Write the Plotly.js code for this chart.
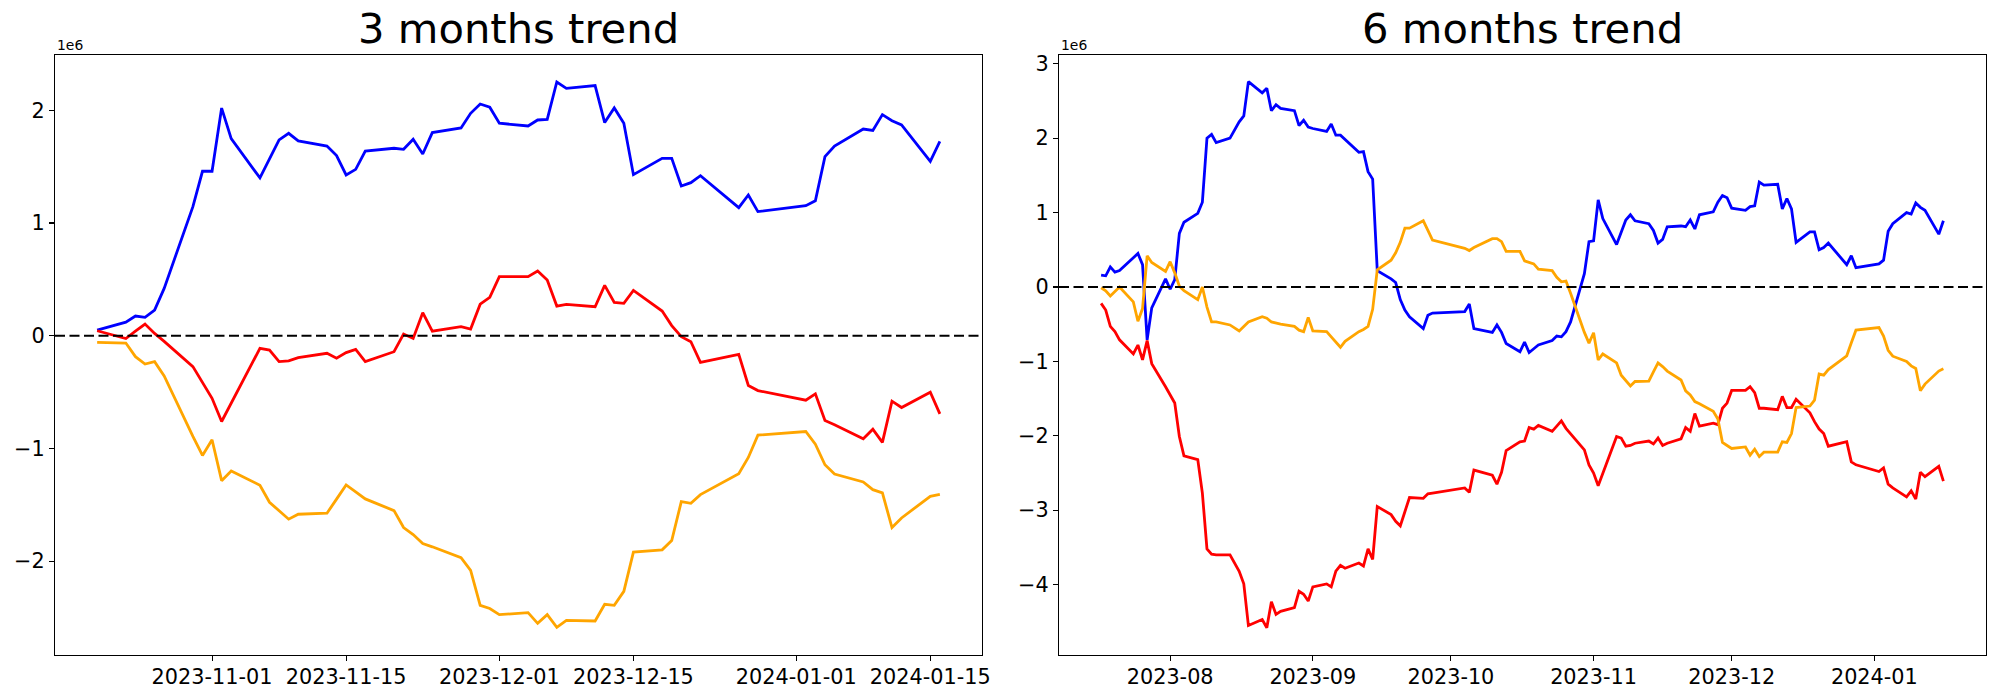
<!DOCTYPE html>
<html>
<head>
<meta charset="utf-8">
<script src="https://cdn.plot.ly/plotly-3.0.1.min.js"></script>
<style>html,body{margin:0;padding:0;background:#fff;}#chart{width:2000px;height:700px;}</style>
</head>
<body>
<div id="chart"></div>
<script>
// ---------- 3 months (values in units of 1e6) ----------
const dates3m = [
 '2023-10-20','2023-10-23','2023-10-24','2023-10-25','2023-10-26','2023-10-27','2023-10-30','2023-10-31',
 '2023-11-01','2023-11-02','2023-11-03','2023-11-06','2023-11-07','2023-11-08','2023-11-09','2023-11-10',
 '2023-11-13','2023-11-14','2023-11-15','2023-11-16','2023-11-17','2023-11-20','2023-11-21','2023-11-22',
 '2023-11-23','2023-11-24','2023-11-27','2023-11-28','2023-11-29','2023-11-30',
 '2023-12-01','2023-12-04','2023-12-05','2023-12-06','2023-12-07','2023-12-08','2023-12-11','2023-12-12',
 '2023-12-13','2023-12-14','2023-12-15','2023-12-18','2023-12-19','2023-12-20','2023-12-21','2023-12-22',
 '2023-12-26','2023-12-27','2023-12-28',
 '2024-01-02','2024-01-03','2024-01-04','2024-01-05','2024-01-08','2024-01-09','2024-01-10','2024-01-11',
 '2024-01-12','2024-01-15','2024-01-16'];
const blue3m = [
 0.05,0.12,0.175,0.163,0.228,0.42,1.145,1.459,
 1.459,2.02,1.749,1.40,1.568,1.737,1.796,1.728,
 1.683,1.598,1.426,1.476,1.639,1.663,1.654,1.743,
 1.612,1.802,1.843,1.973,2.056,2.027,
 1.885,1.861,1.914,1.920,2.251,2.195,2.219,1.891,
 2.021,1.885,1.429,1.574,1.574,1.328,1.358,1.420,
 1.136,1.249,1.101,
 1.154,1.198,1.589,1.683,1.834,1.822,1.962,1.908,
 1.870,1.547,1.725];
const red3m = [
 0.044,-0.025,0.04,0.103,0.02,-0.05,-0.274,-0.41,
 -0.555,-0.761,-0.60,-0.112,-0.127,-0.23,-0.224,-0.195,
 -0.156,-0.2,-0.15,-0.121,-0.23,-0.142,0.015,-0.024,
 0.204,0.041,0.08,0.059,0.28,0.34,
 0.524,0.524,0.574,0.494,0.263,0.278,0.257,0.447,
 0.296,0.287,0.402,0.219,0.09,-0.009,-0.053,-0.237,
 -0.166,-0.442,-0.487,
 -0.572,-0.516,-0.752,-0.79,-0.914,-0.829,-0.947,-0.581,
 -0.637,-0.501,-0.693];
const orange3m = [
 -0.059,-0.065,-0.186,-0.251,-0.23,-0.357,-0.894,-1.062,
 -0.923,-1.286,-1.2,-1.327,-1.478,-1.552,-1.628,-1.584,
 -1.575,-1.45,-1.324,-1.386,-1.448,-1.552,-1.702,-1.764,
 -1.844,-1.873,-1.97,-2.083,-2.392,-2.42,
 -2.475,-2.457,-2.552,-2.475,-2.587,-2.525,-2.531,-2.383,
 -2.392,-2.268,-1.920,-1.9,-1.817,-1.472,-1.487,-1.41,
 -1.224,-1.08,-0.882,
 -0.85,-0.962,-1.145,-1.227,-1.298,-1.366,-1.395,-1.702,
 -1.617,-1.425,-1.407];

// ---------- 6 months (values in units of 1e6) ----------
const dates6m = [
 '2023-07-17','2023-07-18','2023-07-19','2023-07-20','2023-07-21','2023-07-24','2023-07-25','2023-07-26',
 '2023-07-27','2023-07-28','2023-07-31',
 '2023-08-01','2023-08-02','2023-08-03','2023-08-04','2023-08-07','2023-08-08','2023-08-09','2023-08-10',
 '2023-08-11','2023-08-14','2023-08-16','2023-08-17','2023-08-18','2023-08-21','2023-08-22','2023-08-23',
 '2023-08-24','2023-08-25','2023-08-28','2023-08-29','2023-08-30','2023-08-31',
 '2023-09-01','2023-09-04','2023-09-05','2023-09-06','2023-09-07','2023-09-08','2023-09-11','2023-09-12',
 '2023-09-13','2023-09-14','2023-09-15','2023-09-18','2023-09-19','2023-09-20','2023-09-21','2023-09-22',
 '2023-09-25','2023-09-26','2023-09-27',
 '2023-10-04','2023-10-05','2023-10-06','2023-10-10','2023-10-11','2023-10-12','2023-10-13','2023-10-16',
 '2023-10-17','2023-10-18','2023-10-19','2023-10-20','2023-10-23','2023-10-24','2023-10-25','2023-10-26',
 '2023-10-27','2023-10-30','2023-10-31',
 '2023-11-01','2023-11-02','2023-11-03','2023-11-06','2023-11-07','2023-11-08','2023-11-09','2023-11-10',
 '2023-11-13','2023-11-14','2023-11-15','2023-11-16','2023-11-17','2023-11-20','2023-11-21','2023-11-22',
 '2023-11-23','2023-11-24','2023-11-27','2023-11-28','2023-11-29','2023-11-30',
 '2023-12-01','2023-12-04','2023-12-05','2023-12-06','2023-12-07','2023-12-08','2023-12-11','2023-12-12',
 '2023-12-13','2023-12-14','2023-12-15','2023-12-18','2023-12-19','2023-12-20','2023-12-21','2023-12-22',
 '2023-12-26','2023-12-27','2023-12-28',
 '2024-01-02','2024-01-03','2024-01-04','2024-01-05','2024-01-08','2024-01-09','2024-01-10','2024-01-11',
 '2024-01-12','2024-01-15','2024-01-16'];
const blue6m = [
 0.16,0.15,0.27,0.20,0.22,0.40,0.45,0.30,-0.71,-0.28,0.11,
 -0.03,0.10,0.72,0.87,0.99,1.14,2.00,2.05,1.94,2.00,2.22,2.30,2.76,2.61,2.67,2.37,2.45,2.40,2.37,2.17,2.24,2.15,
 2.13,2.09,2.19,2.04,2.04,1.98,1.81,1.82,1.55,1.45,0.22,0.11,0.06,-0.17,-0.31,-0.40,-0.56,-0.38,-0.35,
 -0.33,-0.23,-0.56,-0.61,-0.51,-0.61,-0.76,-0.87,-0.74,-0.88,-0.83,-0.78,-0.72,-0.66,-0.67,-0.60,-0.47,0.18,0.61,
 0.62,1.17,0.92,0.57,0.73,0.90,0.97,0.89,0.85,0.76,0.59,0.64,0.81,0.82,0.81,0.90,0.78,0.97,1.01,1.14,1.23,1.20,
 1.06,1.03,1.08,1.09,1.41,1.37,1.38,1.05,1.19,1.05,0.60,0.74,0.74,0.50,0.53,0.59,0.30,0.42,0.26,
 0.31,0.36,0.75,0.85,1.00,0.98,1.13,1.07,1.03,0.71,0.89];
const red6m = [
 -0.22,-0.31,-0.53,-0.60,-0.71,-0.90,-0.78,-0.98,-0.72,-1.03,-1.34,
 -1.45,-1.56,-2.01,-2.27,-2.32,-2.77,-3.52,-3.59,-3.60,-3.60,-3.82,-3.99,-4.55,-4.47,-4.58,-4.23,-4.40,-4.36,-4.31,-4.09,-4.13,-4.22,
 -4.03,-3.99,-4.03,-3.82,-3.74,-3.78,-3.71,-3.75,-3.52,-3.66,-2.95,-3.06,-3.15,-3.21,-3.02,-2.83,-2.84,-2.78,-2.77,
 -2.70,-2.76,-2.46,-2.53,-2.65,-2.49,-2.20,-2.08,-2.07,-1.89,-1.91,-1.86,-1.94,-1.87,-1.80,-1.90,-1.97,-2.19,-2.39,
 -2.50,-2.67,-2.50,-2.01,-2.03,-2.14,-2.13,-2.10,-2.07,-2.11,-2.03,-2.13,-2.10,-2.04,-1.89,-1.94,-1.70,-1.87,-1.83,-1.85,-1.63,-1.56,
 -1.39,-1.39,-1.34,-1.42,-1.63,-1.63,-1.65,-1.47,-1.62,-1.62,-1.51,-1.69,-1.81,-1.91,-1.97,-2.14,-2.08,-2.35,-2.39,
 -2.48,-2.43,-2.65,-2.70,-2.82,-2.74,-2.85,-2.49,-2.55,-2.41,-2.61];
const orange6m = [
 -0.01,-0.05,-0.12,-0.06,0.00,-0.20,-0.46,-0.29,0.42,0.33,0.21,
 0.34,0.19,0.01,-0.05,-0.17,0.00,-0.27,-0.47,-0.47,-0.51,-0.59,-0.53,-0.47,-0.40,-0.42,-0.47,-0.49,-0.50,-0.53,-0.58,-0.60,-0.41,
 -0.59,-0.60,-0.67,-0.74,-0.81,-0.73,-0.60,-0.57,-0.53,-0.30,0.23,0.36,0.46,0.60,0.79,0.79,0.89,0.76,0.63,
 0.52,0.49,0.53,0.65,0.65,0.61,0.48,0.48,0.35,0.33,0.31,0.24,0.22,0.13,0.07,0.08,-0.085,-0.61,-0.755,
 -0.615,-0.98,-0.90,-1.02,-1.185,-1.26,-1.33,-1.27,-1.265,-1.14,-1.02,-1.07,-1.13,-1.25,-1.395,-1.45,-1.54,-1.57,-1.67,-1.775,-2.09,-2.13,
 -2.17,-2.15,-2.26,-2.18,-2.28,-2.22,-2.22,-2.08,-2.09,-1.97,-1.62,-1.60,-1.52,-1.17,-1.185,-1.11,-0.925,-0.75,-0.58,
 -0.545,-0.66,-0.85,-0.93,-1.00,-1.06,-1.095,-1.395,-1.305,-1.13,-1.10];

// ---------- tick labels ----------
const xticks3m = ['2023-11-01','2023-11-15','2023-12-01','2023-12-15','2024-01-01','2024-01-15'];
const xticks6m = ['2023-08-01','2023-09-01','2023-10-01','2023-11-01','2023-12-01','2024-01-01'];
const xticktext6m = ['2023-08','2023-09','2023-10','2023-11','2023-12','2024-01'];
const yticks3m = [-2,-1,0,1,2];
const yticks6m = [-4,-3,-2,-1,0,1,2,3];
const titles = ['3 months trend','6 months trend'];
const offsetLabel = '1e6';

const FONT = 'DejaVu Sans';
const LW = 2.8;
function line(x, y, color, xa, ya) {
  return {x: x, y: y, type: 'scatter', mode: 'lines', xaxis: xa, yaxis: ya,
          line: {color: color, width: LW}, hoverinfo: 'skip', showlegend: false};
}
const traces = [
  line(dates3m, blue3m, '#0000ff', 'x', 'y'),
  line(dates3m, red3m, '#ff0000', 'x', 'y'),
  line(dates3m, orange3m, '#ffa500', 'x', 'y'),
  line(dates6m, blue6m, '#0000ff', 'x2', 'y2'),
  line(dates6m, red6m, '#ff0000', 'x2', 'y2'),
  line(dates6m, orange6m, '#ffa500', 'x2', 'y2')
];

const axCommon = {
  showgrid: false, zeroline: false, showline: true, linecolor: '#000', linewidth: 1.1,
  mirror: true, ticks: 'outside', ticklen: 5, tickwidth: 1.1, tickcolor: '#000',
  tickfont: {family: FONT, size: 20.8, color: '#000'}
};
const yDom = [1 - 655/700, 1 - 55.3/700];

const layout = {
  width: 2000, height: 700,
  margin: {l: 0, r: 0, t: 0, b: 0},
  paper_bgcolor: '#fff', plot_bgcolor: '#fff',
  showlegend: false,
  xaxis: Object.assign({}, axCommon, {
    domain: [55/2000, 982/2000], anchor: 'y', type: 'date',
    range: ['2023-10-15 14:24', '2024-01-20 09:36'],
    tickvals: xticks3m, ticktext: xticks3m, ticklabelstandoff: -2
  }),
  yaxis: Object.assign({}, axCommon, {
    domain: yDom, anchor: 'x', range: [-2.833, 2.488],
    tickvals: yticks3m, ticktext: yticks3m.map(v => v < 0 ? '\u2212' + Math.abs(v) : String(v))
  }),
  xaxis2: Object.assign({}, axCommon, {
    domain: [1059/2000, 1985.5/2000], anchor: 'y2', type: 'date',
    range: ['2023-07-07 20:24', '2024-01-25 03:36'],
    tickvals: xticks6m, ticktext: xticktext6m, ticklabelstandoff: -2
  }),
  yaxis2: Object.assign({}, axCommon, {
    domain: yDom, anchor: 'x2', range: [-4.946, 3.114],
    tickvals: yticks6m, ticktext: yticks6m.map(v => v < 0 ? '\u2212' + Math.abs(v) : String(v))
  }),
  shapes: [
    {type: 'line', xref: 'x domain', yref: 'y', x0: 0, x1: 1, y0: 0, y1: 0, layer: 'above',
     line: {color: '#000', width: 2, dash: '10px,4.5px'}},
    {type: 'line', xref: 'x2 domain', yref: 'y2', x0: 0, x1: 1, y0: 0, y1: 0, layer: 'above',
     line: {color: '#000', width: 2, dash: '10px,4.5px'}}
  ],
  annotations: [
    {text: titles[0], xref: 'x domain', yref: 'y domain', x: 0.5, y: 1, xanchor: 'center', yanchor: 'bottom',
     showarrow: false, font: {family: FONT, size: 41.7, color: '#000'}},
    {text: titles[1], xref: 'x2 domain', yref: 'y2 domain', x: 0.5, y: 1, xanchor: 'center', yanchor: 'bottom',
     showarrow: false, font: {family: FONT, size: 41.7, color: '#000'}},
    {text: offsetLabel, xref: 'x domain', yref: 'y domain', x: 0, y: 1, xanchor: 'left', yanchor: 'bottom',
     showarrow: false, font: {family: FONT, size: 13.9, color: '#000'}},
    {text: offsetLabel, xref: 'x2 domain', yref: 'y2 domain', x: 0, y: 1, xanchor: 'left', yanchor: 'bottom',
     showarrow: false, font: {family: FONT, size: 13.9, color: '#000'}}
  ]
};

Plotly.newPlot('chart', traces, layout, {staticPlot: true, displayModeBar: false});
</script>
</body>
</html>
